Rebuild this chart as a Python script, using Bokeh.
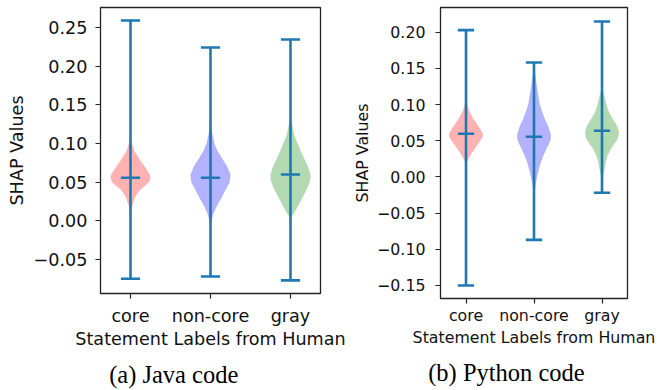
from bokeh.plotting import figure
from bokeh.layouts import row
from bokeh.models import FixedTicker, CustomJSTickFormatter, LinearAxis
from bokeh.embed import file_html
from bokeh.resources import INLINE
import numpy as np

# ---------------- data ----------------
categories = ["core", "non-core", "gray"]
positions = [1, 2, 3]
fill_colors = ["red", "blue", "green"]

java_max = [0.259, 0.224, 0.2345]
java_min = [-0.075, -0.072, -0.077]
java_median = [0.0556, 0.0556, 0.0599]

py_max = [0.2027, 0.158, 0.2147]
py_min = [-0.150, -0.087, -0.022]
py_median = [0.0595, 0.0554, 0.0637]

# violin outlines: y value and half width
java_core_y = [0.106, 0.10, 0.09, 0.08, 0.07, 0.06, 0.055, 0.05, 0.045, 0.04, 0.035, 0.03, 0.02, 0.012]
java_core_w = [0.0, 0.02, 0.05, 0.11, 0.18, 0.24, 0.25, 0.23, 0.18, 0.12, 0.085, 0.055, 0.025, 0.0]
java_noncore_y = [0.128, 0.12, 0.11, 0.10, 0.09, 0.08, 0.07, 0.06, 0.05, 0.04, 0.03, 0.02, 0.01, 0.0, -0.005]
java_noncore_w = [0.0, 0.012, 0.028, 0.05, 0.09, 0.15, 0.21, 0.25, 0.24, 0.19, 0.14, 0.085, 0.04, 0.012, 0.0]
java_gray_y = [0.133, 0.125, 0.11, 0.10, 0.09, 0.08, 0.07, 0.06, 0.055, 0.05, 0.04, 0.03, 0.02, 0.01, 0.003]
java_gray_w = [0.0, 0.02, 0.05, 0.09, 0.13, 0.175, 0.22, 0.25, 0.25, 0.24, 0.2, 0.15, 0.1, 0.045, 0.0]

py_core_y = [0.106, 0.10, 0.09, 0.08, 0.07, 0.06, 0.055, 0.05, 0.04, 0.03, 0.022, 0.016]
py_core_w = [0.0, 0.02, 0.05, 0.11, 0.185, 0.25, 0.245, 0.21, 0.135, 0.065, 0.02, 0.0]
py_noncore_y = [0.155, 0.14, 0.12, 0.10, 0.09, 0.08, 0.07, 0.06, 0.055, 0.05, 0.04, 0.03, 0.02, 0.01, 0.0, -0.01, -0.02, -0.03]
py_noncore_w = [0.0, 0.02, 0.05, 0.085, 0.12, 0.16, 0.21, 0.245, 0.25, 0.24, 0.19, 0.14, 0.10, 0.07, 0.045, 0.025, 0.01, 0.0]
py_gray_y = [0.125, 0.11, 0.10, 0.09, 0.08, 0.07, 0.062, 0.055, 0.05, 0.04, 0.03, 0.02, 0.01, 0.0, -0.005]
py_gray_w = [0.0, 0.04, 0.065, 0.10, 0.16, 0.225, 0.25, 0.24, 0.215, 0.14, 0.085, 0.055, 0.035, 0.012, 0.0]

java_y_ticks = [-0.05, 0.0, 0.05, 0.10, 0.15, 0.20, 0.25]
py_y_ticks = [-0.15, -0.10, -0.05, 0.0, 0.05, 0.10, 0.15, 0.20]

x_label = "Statement Labels from Human"
y_label = "SHAP Values"
captions = ["(a) Java code", "(b) Python code"]

LINE = "#1f77b4"
NBSP = "\u00a0"


def make_panel(profiles, vmax, vmin, vmed, yticks, yrange, fw, fh,
               mbl, mbr, mbt, mbb, font_px, xstand, xlab_stand, ystand, ylab_stand,
               caption, cap_pad, cap_stand):
    p = figure(frame_width=fw, frame_height=fh, x_range=(0.625, 3.375), y_range=yrange,
               output_backend="svg", toolbar_location=None,
               min_border_left=mbl, min_border_right=mbr, min_border_top=mbt,
               min_border_bottom=mbb)
    p.grid.visible = False
    p.outline_line_color = "#222222"
    p.outline_line_width = 1.3
    p.background_fill_color = "white"
    p.border_fill_color = "white"

    for pos, (ys, ws), col in zip(positions, profiles, fill_colors):
        ys = np.array(ys)
        ws = np.array(ws)
        p.harea(y=ys, x1=pos - ws, x2=pos + ws, fill_color=col, fill_alpha=0.3)

    pos = np.array(positions, dtype=float)
    p.segment(x0=pos, y0=vmin, x1=pos, y1=vmax, line_color=LINE, line_width=2.6)
    for vals in (vmax, vmin, vmed):
        p.segment(x0=pos - 0.12, y0=vals, x1=pos + 0.12, y1=vals,
                  line_color=LINE, line_width=2.6)

    fs = f"{font_px}px"
    for ax in (p.xaxis[0], p.yaxis[0]):
        ax.axis_line_color = None
        ax.major_tick_line_color = "#222222"
        ax.major_tick_line_width = 1.2
        ax.major_tick_out = 5
        ax.major_tick_in = 0
        ax.minor_tick_line_color = None
        ax.major_label_text_font = "DejaVu Sans"
        ax.major_label_text_font_size = fs
        ax.major_label_text_color = "#111111"
        ax.axis_label_text_font = "DejaVu Sans"
        ax.axis_label_text_font_size = fs
        ax.axis_label_text_font_style = "normal"
        ax.axis_label_text_color = "#111111"

    xa = p.xaxis[0]
    xa.ticker = FixedTicker(ticks=positions)
    xa.major_label_overrides = {k: v for k, v in zip(positions, categories)}
    xa.major_label_standoff = xstand
    xa.axis_label = x_label
    xa.axis_label_standoff = xlab_stand

    ya = p.yaxis[0]
    ya.ticker = FixedTicker(ticks=yticks)
    ya.formatter = CustomJSTickFormatter(
        code="return tick.toFixed(2).replace('-', '\u2212');")
    ya.major_label_standoff = ystand
    ya.axis_label = y_label
    ya.axis_label_standoff = ylab_stand

    # caption: a label-only axis below the x axis
    cap = LinearAxis(ticker=FixedTicker(ticks=[]), axis_label=caption + NBSP * cap_pad,
                     axis_line_color=None, major_tick_line_color=None,
                     minor_tick_line_color=None, major_label_text_font_size="0px",
                     axis_label_standoff=cap_stand,
                     axis_label_text_font="Liberation Serif",
                     axis_label_text_font_size="24.5px",
                     axis_label_text_font_style="normal",
                     axis_label_text_color="black")
    p.add_layout(cap, "below")
    return p


p1 = make_panel([(java_core_y, java_core_w), (java_noncore_y, java_noncore_w),
                 (java_gray_y, java_gray_w)],
                java_max, java_min, java_median, java_y_ticks, (-0.094, 0.2758),
                220, 286, 100, 30, 7, 96, 17.6, 7, 0, 8, 4,
                captions[0], 12, 9)
p2 = make_panel([(py_core_y, py_core_w), (py_noncore_y, py_noncore_w),
                 (py_gray_y, py_gray_w)],
                py_max, py_min, py_median, py_y_ticks, (-0.168, 0.2340),
                187, 291, 90, 29, 6, 92, 15.8, 2, 0, 10, 2,
                captions[1], 9, 9)

layout = row(p1, p2)
open("out.html", "w").write(file_html(layout, INLINE))
